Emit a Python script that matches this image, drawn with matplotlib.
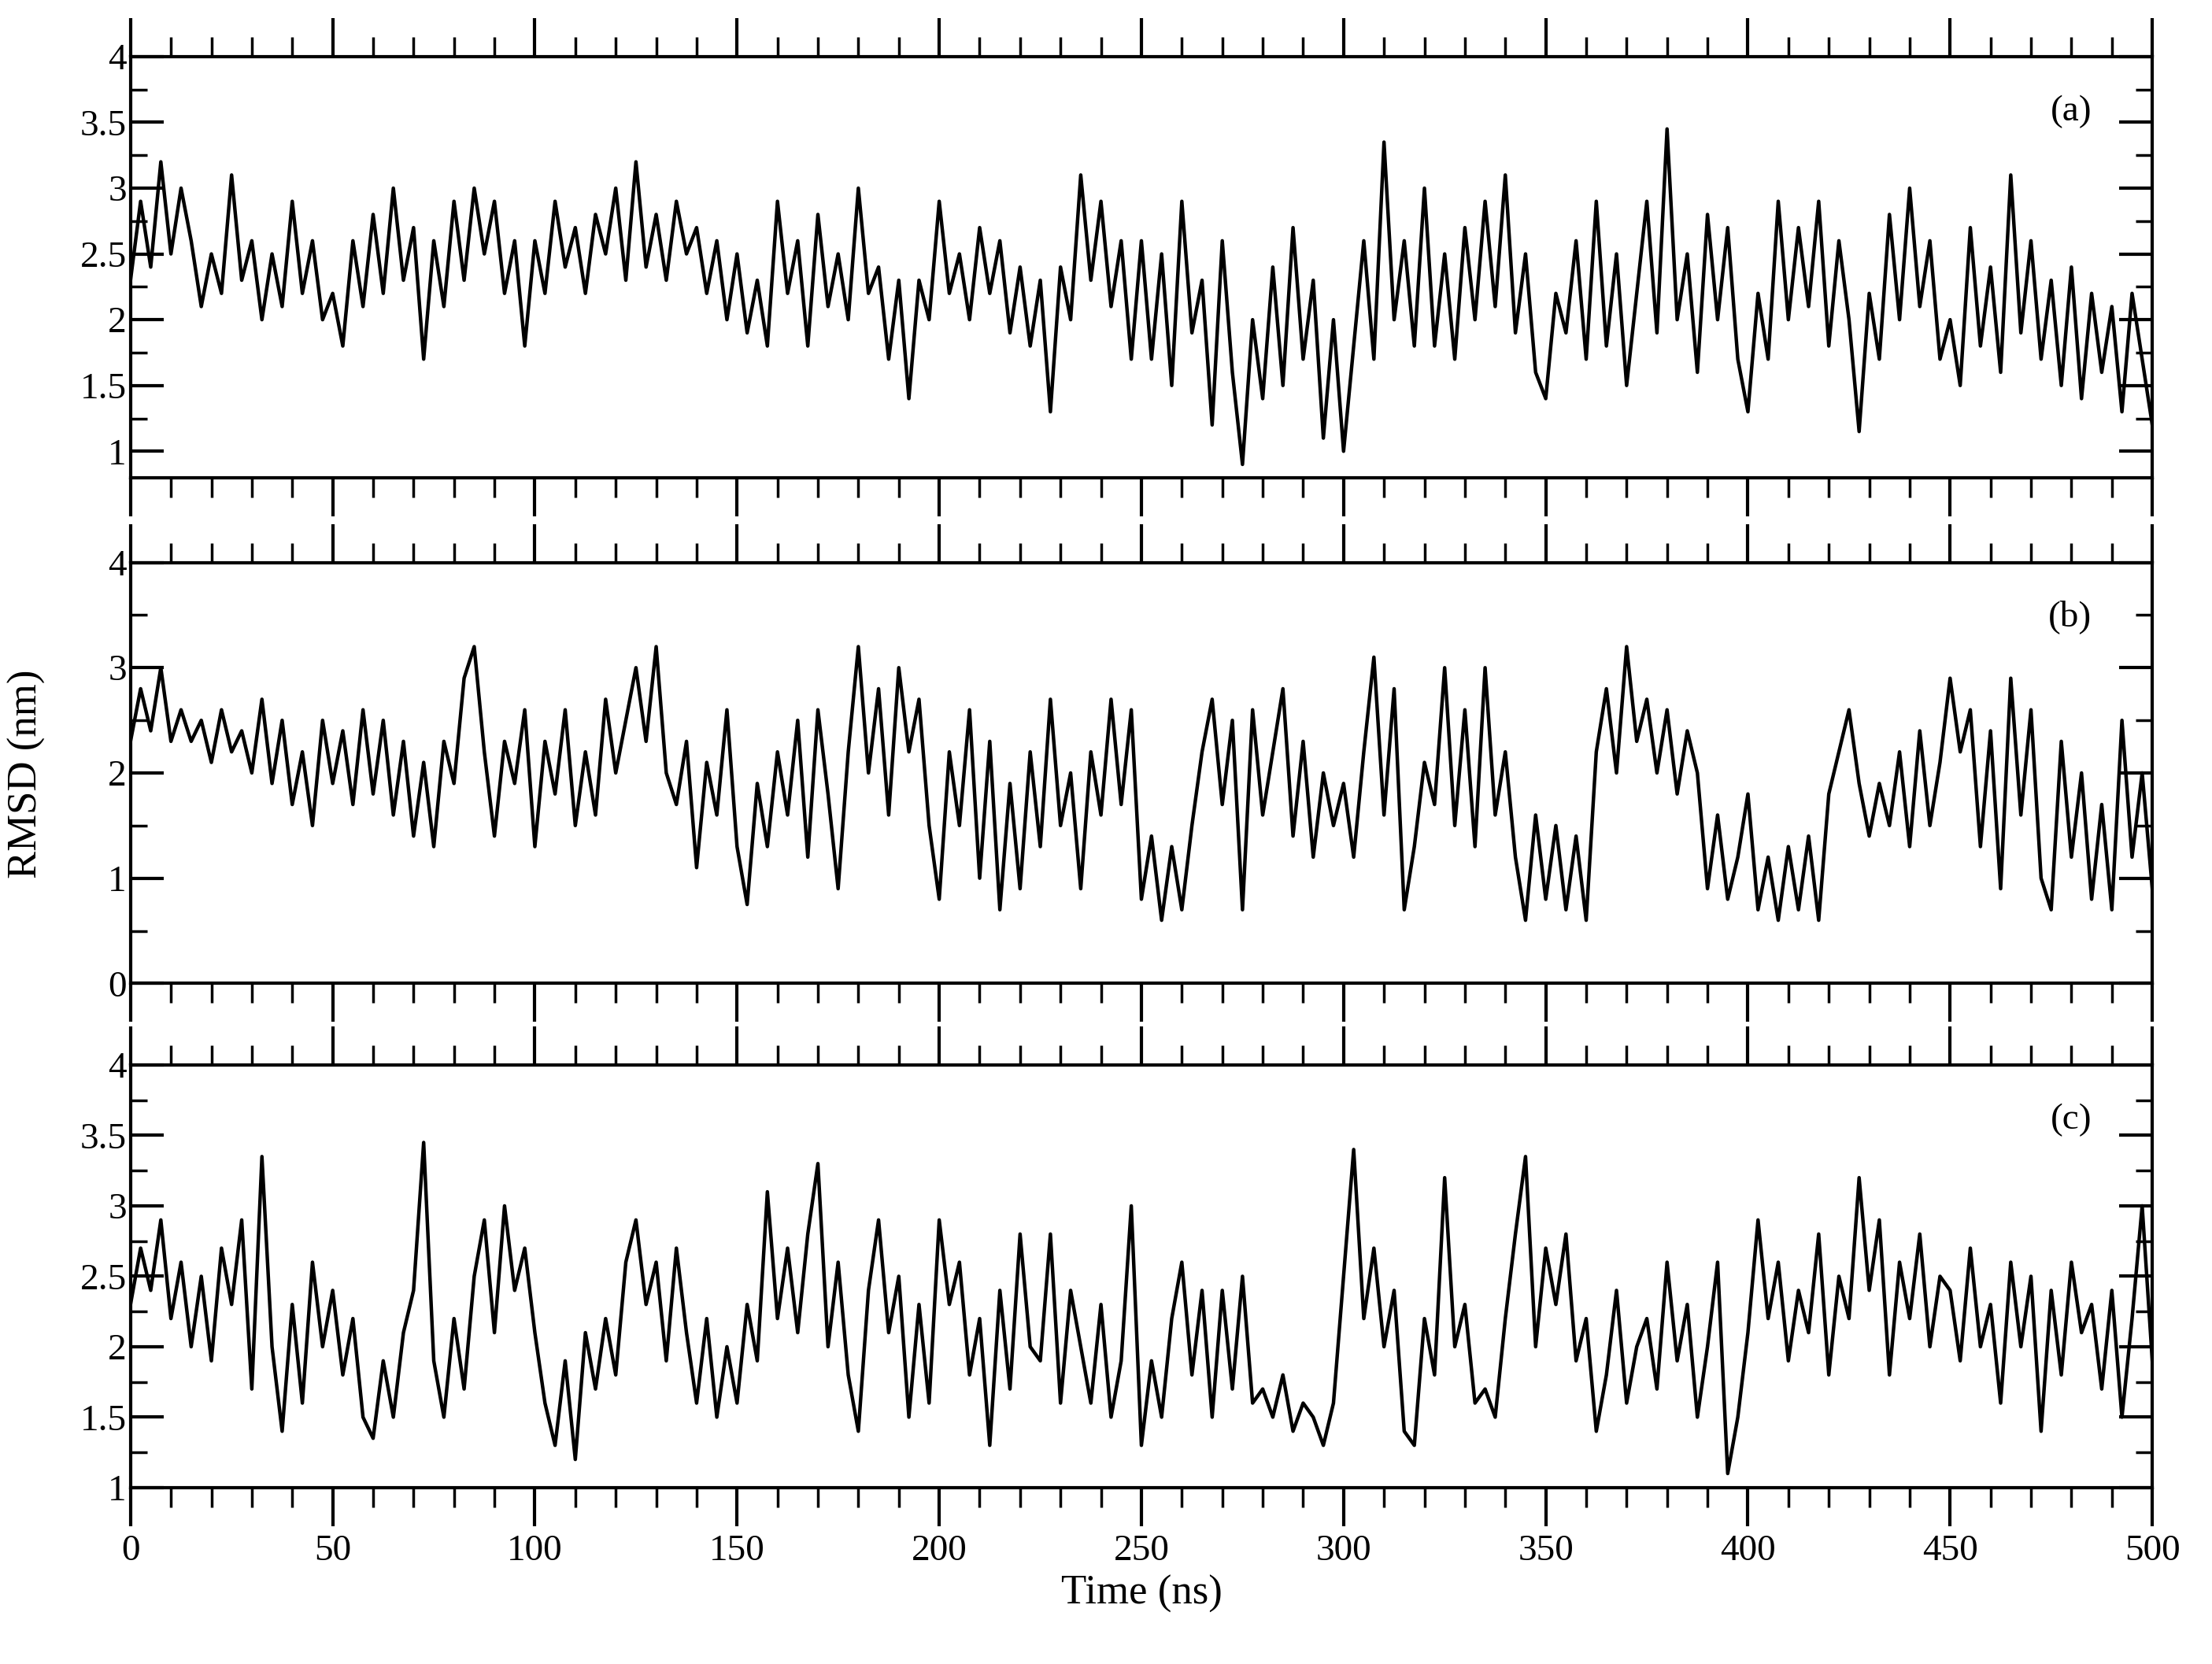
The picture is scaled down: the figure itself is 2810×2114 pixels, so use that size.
import numpy as np
import matplotlib
matplotlib.use("Agg")
import matplotlib.pyplot as plt
from matplotlib.ticker import MultipleLocator

plt.rcParams['font.family'] = ['Liberation Serif', 'DejaVu Serif']

time_step = 2.5
rmsd_a = [2.3,2.9,2.4,3.2,2.5,3.0,2.6,2.1,2.5,2.2,
 3.1,2.3,2.6,2.0,2.5,2.1,2.9,2.2,2.6,2.0,
 2.2,1.8,2.6,2.1,2.8,2.2,3.0,2.3,2.7,1.7,
 2.6,2.1,2.9,2.3,3.0,2.5,2.9,2.2,2.6,1.8,
 2.6,2.2,2.9,2.4,2.7,2.2,2.8,2.5,3.0,2.3,
 3.2,2.4,2.8,2.3,2.9,2.5,2.7,2.2,2.6,2.0,
 2.5,1.9,2.3,1.8,2.9,2.2,2.6,1.8,2.8,2.1,
 2.5,2.0,3.0,2.2,2.4,1.7,2.3,1.4,2.3,2.0,
 2.9,2.2,2.5,2.0,2.7,2.2,2.6,1.9,2.4,1.8,
 2.3,1.3,2.4,2.0,3.1,2.3,2.9,2.1,2.6,1.7,
 2.6,1.7,2.5,1.5,2.9,1.9,2.3,1.2,2.6,1.6,
 0.9,2.0,1.4,2.4,1.5,2.7,1.7,2.3,1.1,2.0,
 1.0,1.8,2.6,1.7,3.35,2.0,2.6,1.8,3.0,1.8,
 2.5,1.7,2.7,2.0,2.9,2.1,3.1,1.9,2.5,1.6,
 1.4,2.2,1.9,2.6,1.7,2.9,1.8,2.5,1.5,2.2,
 2.9,1.9,3.45,2.0,2.5,1.6,2.8,2.0,2.7,1.7,
 1.3,2.2,1.7,2.9,2.0,2.7,2.1,2.9,1.8,2.6,
 2.0,1.15,2.2,1.7,2.8,2.0,3.0,2.1,2.6,1.7,
 2.0,1.5,2.7,1.8,2.4,1.6,3.1,1.9,2.6,1.7,
 2.3,1.5,2.4,1.4,2.2,1.6,2.1,1.3,2.2,1.7,
 1.2]
rmsd_b = [2.3,2.8,2.4,3.0,2.3,2.6,2.3,2.5,2.1,2.6,
 2.2,2.4,2.0,2.7,1.9,2.5,1.7,2.2,1.5,2.5,
 1.9,2.4,1.7,2.6,1.8,2.5,1.6,2.3,1.4,2.1,
 1.3,2.3,1.9,2.9,3.2,2.2,1.4,2.3,1.9,2.6,
 1.3,2.3,1.8,2.6,1.5,2.2,1.6,2.7,2.0,2.5,
 3.0,2.3,3.2,2.0,1.7,2.3,1.1,2.1,1.6,2.6,
 1.3,0.75,1.9,1.3,2.2,1.6,2.5,1.2,2.6,1.8,
 0.9,2.2,3.2,2.0,2.8,1.6,3.0,2.2,2.7,1.5,
 0.8,2.2,1.5,2.6,1.0,2.3,0.7,1.9,0.9,2.2,
 1.3,2.7,1.5,2.0,0.9,2.2,1.6,2.7,1.7,2.6,
 0.8,1.4,0.6,1.3,0.7,1.5,2.2,2.7,1.7,2.5,
 0.7,2.6,1.6,2.2,2.8,1.4,2.3,1.2,2.0,1.5,
 1.9,1.2,2.2,3.1,1.6,2.8,0.7,1.3,2.1,1.7,
 3.0,1.5,2.6,1.3,3.0,1.6,2.2,1.2,0.6,1.6,
 0.8,1.5,0.7,1.4,0.6,2.2,2.8,2.0,3.2,2.3,
 2.7,2.0,2.6,1.8,2.4,2.0,0.9,1.6,0.8,1.2,
 1.8,0.7,1.2,0.6,1.3,0.7,1.4,0.6,1.8,2.2,
 2.6,1.9,1.4,1.9,1.5,2.2,1.3,2.4,1.5,2.1,
 2.9,2.2,2.6,1.3,2.4,0.9,2.9,1.6,2.6,1.0,
 0.7,2.3,1.2,2.0,0.8,1.7,0.7,2.5,1.2,2.0,
 0.9]
rmsd_c = [2.3,2.7,2.4,2.9,2.2,2.6,2.0,2.5,1.9,2.7,
 2.3,2.9,1.7,3.35,2.0,1.4,2.3,1.6,2.6,2.0,
 2.4,1.8,2.2,1.5,1.35,1.9,1.5,2.1,2.4,3.45,
 1.9,1.5,2.2,1.7,2.5,2.9,2.1,3.0,2.4,2.7,
 2.1,1.6,1.3,1.9,1.2,2.1,1.7,2.2,1.8,2.6,
 2.9,2.3,2.6,1.9,2.7,2.1,1.6,2.2,1.5,2.0,
 1.6,2.3,1.9,3.1,2.2,2.7,2.1,2.8,3.3,2.0,
 2.6,1.8,1.4,2.4,2.9,2.1,2.5,1.5,2.3,1.6,
 2.9,2.3,2.6,1.8,2.2,1.3,2.4,1.7,2.8,2.0,
 1.9,2.8,1.6,2.4,2.0,1.6,2.3,1.5,1.9,3.0,
 1.3,1.9,1.5,2.2,2.6,1.8,2.4,1.5,2.4,1.7,
 2.5,1.6,1.7,1.5,1.8,1.4,1.6,1.5,1.3,1.6,
 2.5,3.4,2.2,2.7,2.0,2.4,1.4,1.3,2.2,1.8,
 3.2,2.0,2.3,1.6,1.7,1.5,2.2,2.8,3.35,2.0,
 2.7,2.3,2.8,1.9,2.2,1.4,1.8,2.4,1.6,2.0,
 2.2,1.7,2.6,1.9,2.3,1.5,2.0,2.6,1.1,1.5,
 2.1,2.9,2.2,2.6,1.9,2.4,2.1,2.8,1.8,2.5,
 2.2,3.2,2.4,2.9,1.8,2.6,2.2,2.8,2.0,2.5,
 2.4,1.9,2.7,2.0,2.3,1.6,2.6,2.0,2.5,1.4,
 2.4,1.8,2.6,2.1,2.3,1.7,2.4,1.5,2.2,3.0,
 1.9]
panel_labels = ['(a)', '(b)', '(c)']
ylims = [(0.8, 4), (0, 4), (1, 4)]
ymajor = [0.5, 1, 0.5]

fig = plt.figure(figsize=(28.1, 21.14), dpi=100)
boxes = [(0.713, 0.966), (0.409, 0.662), (0.106, 0.360)]
left, right = 0.059, 0.973
fs = 34
for i, (series, lab, yl, ym, (b, t)) in enumerate(zip([rmsd_a, rmsd_b, rmsd_c], panel_labels, ylims, ymajor, boxes)):
    ax = fig.add_axes([left, b, right - left, t - b])
    x = np.arange(len(series)) * time_step
    ax.plot(x, series, color='black', lw=3.2)
    ax.set_xlim(0, 500)
    ax.set_ylim(*yl)
    ax.xaxis.set_major_locator(MultipleLocator(50))
    ax.xaxis.set_minor_locator(MultipleLocator(10))
    ax.yaxis.set_major_locator(MultipleLocator(ym))
    ax.yaxis.set_minor_locator(MultipleLocator(ym / 2))
    ax.tick_params(axis='x', which='major', direction='out', length=35, width=3, top=True, bottom=True, labelsize=fs, pad=8)
    ax.tick_params(axis='x', which='minor', direction='out', length=18, width=2.5, top=True, bottom=True)
    ax.tick_params(axis='y', which='major', direction='in', length=30, width=3, left=True, right=True, labelsize=fs)
    ax.tick_params(axis='y', which='minor', direction='in', length=15, width=2.5, left=True, right=True)
    if i < 2:
        ax.tick_params(axis='x', labelbottom=False)
    ax.set_yticks([v for v in ax.get_yticks() if yl[0] <= v <= yl[1]])
    ax.set_yticklabels([('%g' % v) for v in ax.get_yticks()])
    for s in ax.spines.values():
        s.set_linewidth(3)
    ax.text(0.97, 0.87, lab, transform=ax.transAxes, ha='right', va='center', fontsize=fs)
    if i == 2:
        ax.set_xlabel('Time (ns)', fontsize=fs + 4, labelpad=6)
fig.text(0.012, 0.535, 'RMSD (nm)', rotation=90, va='center', ha='center', fontsize=fs + 4)
fig.savefig('out.png', dpi=100)
